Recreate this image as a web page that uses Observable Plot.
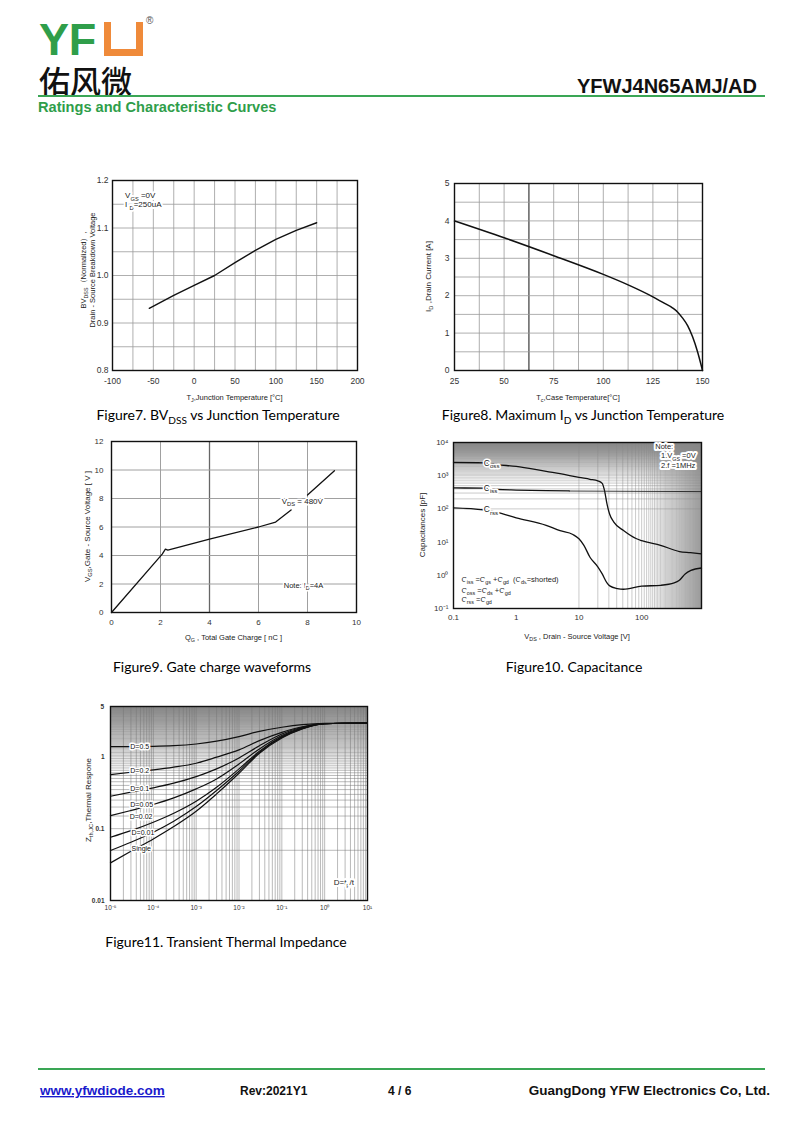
<!DOCTYPE html>
<html><head><meta charset="utf-8">
<script src="https://cdn.jsdelivr.net/npm/d3@7"></script>
<script src="https://cdn.jsdelivr.net/npm/@observablehq/plot@0.6"></script>
<style>
body{margin:0;background:#fff;}
#page{position:relative;width:800px;height:1131px;overflow:hidden;background:#fff;}
#page svg{position:absolute;}
</style>
</head><body><div id="page"></div>
<script>
// ---------- DATA ----------
// Figure 7: BVDSS (normalized) vs junction temperature
const f7T  = [-55, -25, 0, 25, 50, 75, 100, 125, 150];
const f7BV = [0.931, 0.958, 0.979, 1.0, 1.027, 1.053, 1.076, 1.095, 1.111];
const f7TicksX = [-100, -50, 0, 50, 100, 150, 200];
const f7TicksY = [0.8, 0.9, 1.0, 1.1, 1.2];
const f7GridX = [-100, -75, -50, -25, 0, 25, 50, 75, 100, 125, 150, 175, 200];
const f7GridY = [0.8, 0.85, 0.9, 0.95, 1.0, 1.05, 1.1, 1.15, 1.2];

// Figure 8: maximum ID vs case temperature
const f8T  = [25, 50, 75, 100, 112.5, 125, 130, 135, 137.5, 140, 142.5, 145, 147.5, 150];
const f8ID = [4.0, 3.55, 3.07, 2.57, 2.29, 1.97, 1.82, 1.67, 1.56, 1.40, 1.2, 0.9, 0.5, 0];
const f8TicksX = [25, 50, 75, 100, 125, 150];
const f8TicksY = [0, 1, 2, 3, 4, 5];
const f8GridX = [25, 37.5, 50, 62.5, 75, 87.5, 100, 112.5, 125, 137.5, 150];
const f8GridDarkX = [62.5];
const f8GridY = [0, 0.5, 1, 1.5, 2, 2.5, 3, 3.5, 4, 4.5, 5];

// Figure 9: gate charge
const f9Seg = ["a", "a", "a", "a", "a", "a", "a", "a", "b", "b"];
const f9Q   = [0, 2.07, 2.2, 2.3, 4.0, 6.0, 6.7, 7.33, 8.0, 9.1];
const f9V   = [0, 4.1, 4.45, 4.38, 5.15, 6.0, 6.35, 7.2, 8.24, 9.95];
const f9TicksX = [0, 2, 4, 6, 8, 10];
const f9TicksY = [0, 2, 4, 6, 8, 10, 12];
const f9GridX = [2, 4, 6, 8];
const f9GridDarkX = [4];
const f9GridY = [2, 4, 6, 8, 10];

// Figure 10: capacitance
const f10CossV = [0.1, 0.3, 0.5, 1, 2, 3, 5, 10, 15, 20, 23.5, 25.6, 28, 30.8, 36, 52, 83, 100, 200, 401, 600, 900];
const f10Coss  = [2500, 2450, 2150, 1900, 1550, 1350, 1150, 890, 780, 700, 590, 355, 141, 70, 40, 22, 12.6, 11, 8, 5.2, 4.8, 4.4];
const f10CissV = [0.1, 0.3, 0.5, 1, 3, 7];
const f10Ciss  = [427, 420, 385, 370, 355, 347];
const f10CissTailV = [7, 900];
const f10CissTail  = [345, 332];
const f10CrssV = [0.1, 0.3, 0.5, 1, 3, 5, 8, 10, 12, 15, 20, 23.5, 28, 31, 41, 51, 100, 202, 330, 400, 494, 610, 900];
const f10Crss  = [107, 93, 79, 54, 32, 22, 17, 12.6, 8, 3.5, 1.8, 1.1, 0.59, 0.48, 0.4, 0.38, 0.47, 0.5, 0.59, 0.71, 1.1, 1.4, 1.66];
const f10TicksX = [0.1, 1, 10, 100, 700];
const f10TicksY = [0.1, 1, 10, 100, 1000, 10000];
const f10TickLabelsY = ["10⁻¹", "10⁰", "10¹", "10²", "10³", "10⁴"];

// Figure 11: transient thermal impedance
const f11T = [1e-5, 3e-5, 1e-4, 3e-4, 1e-3, 3e-3, 1e-2, 3e-2, 0.1, 0.3, 1, 10];
const f11D    = ["D=0.5", "D=0.2", "D=0.1", "D=0.05", "D=0.02", "D=0.01", "Single"];
const f11Z05  = [1.39, 1.39, 1.40, 1.43, 1.51, 1.65, 1.91, 2.26, 2.58, 2.81, 2.93, 2.96];
const f11Z02  = [0.566, 0.61, 0.658, 0.718, 0.815, 0.989, 1.25, 1.68, 2.19, 2.62, 2.89, 2.96];
const f11Z01  = [0.283, 0.322, 0.37, 0.43, 0.531, 0.679, 0.966, 1.43, 2.08, 2.58, 2.9, 2.96];
const f11Z005 = [0.152, 0.179, 0.217, 0.268, 0.358, 0.493, 0.797, 1.29, 1.98, 2.53, 2.9, 2.96];
const f11Z002 = [0.076, 0.094, 0.123, 0.164, 0.241, 0.377, 0.679, 1.20, 1.91, 2.50, 2.9, 2.96];
const f11Z001 = [0.0497, 0.0648, 0.0893, 0.127, 0.203, 0.34, 0.631, 1.16, 1.87, 2.47, 2.9, 2.96];
const f11ZS   = [0.0334, 0.0485, 0.072, 0.107, 0.175, 0.305, 0.591, 1.12, 1.83, 2.45, 2.9, 2.96];
const f11LabelT = [2.9e-5, 2.9e-5, 2.9e-5, 2.9e-5, 2.8e-5, 3.1e-5, 3.1e-5];
const f11LabelZ = [1.39, 0.63, 0.358, 0.217, 0.148, 0.089, 0.052];
const f11TicksX = [1e-5, 1e-4, 1e-3, 1e-2, 1e-1, 1, 10];
const f11TickLabelsX = ["10⁻⁵", "10⁻⁴", "10⁻³", "10⁻²", "10⁻¹", "10⁰", "10¹"];
const f11TicksY = [0.01, 0.1, 1, 5];

// ---------- HELPERS ----------
const FONT = "'Liberation Sans', Arial, Helvetica, sans-serif";
const page = document.getElementById("page");
function place(svg, left, top) { svg.style.left = left + "px"; svg.style.top = top + "px"; page.appendChild(svg); return svg; }
function rich(svg, x, y, parts, o = {}) {
  const size = o.size || 8;
  const t = d3.select(svg).append("text")
    .attr("x", x).attr("y", y)
    .attr("font-family", o.family || FONT)
    .attr("font-size", size)
    .attr("font-weight", o.weight || "normal")
    .attr("fill", o.fill || "#222")
    .attr("text-anchor", o.anchor || "start");
  if (o.rotate) t.attr("transform", `rotate(${o.rotate},${x},${y})`);
  if (o.halo) t.attr("stroke", "#fff").attr("stroke-width", o.halo).attr("paint-order", "stroke").attr("stroke-linejoin", "round");
  if (o.underline) t.attr("text-decoration", "underline");
  let cur = 0;
  for (const p of parts) {
    const [s, k] = Array.isArray(p) ? p : [p, null];
    const want = k === "sub" ? size * 0.3 : k === "sup" ? -size * 0.4 : 0;
    const ts = t.append("tspan").text(s);
    if (want !== cur) ts.attr("dy", want - cur);
    if (k) ts.attr("font-size", size * 0.72);
    cur = want;
  }
  return t;
}
const zip = (xs, ys, k = "x", v = "y") => xs.map((x, i) => ({[k]: x, [v]: ys[i]}));
const baseStyle = {fontFamily: FONT, fontSize: "8.5px", color: "#333", background: "transparent", overflow: "visible"};
const GRID = {stroke: "#9a9a9a", strokeWidth: 0.8};

// ---------- PAGE OVERLAY (header, footer, captions) ----------
const ov = d3.create("svg").attr("width", 800).attr("height", 1131).style("left", "0px").style("top", "0px").node();
page.appendChild(ov);
{
  const g = d3.select(ov);
  g.append("text").attr("x", 39).attr("y", 55).attr("font-family", FONT).attr("font-weight", "bold")
    .attr("font-size", 45).attr("fill", "#2f9e4a").attr("letter-spacing", "-0.3").text("YF");
  // stylised orange "U"
  g.append("path").attr("d", "M104,22 h7 v27 h25 v-27 h7 v34 h-39 z").attr("fill", "#ef8a3a");
  g.append("text").attr("x", 146).attr("y", 24).attr("font-family", FONT).attr("font-size", 10).attr("fill", "#555").text("®");
  g.append("text").attr("x", 39).attr("y", 93).attr("font-family", "'Noto Sans CJK SC'").attr("font-weight", 500)
    .attr("font-size", 31).attr("fill", "#111").text("佑风微");
  g.append("text").attr("x", 757).attr("y", 93).attr("text-anchor", "end").attr("font-family", FONT).attr("font-weight", "bold")
    .attr("font-size", 20).attr("fill", "#111").text("YFWJ4N65AMJ/AD");
  g.append("rect").attr("x", 38).attr("y", 95).attr("width", 727).attr("height", 2).attr("fill", "#3aa655");
  g.append("text").attr("x", 38).attr("y", 112).attr("font-family", FONT).attr("font-weight", "bold")
    .attr("font-size", 14.6).attr("fill", "#2f9e4a").text("Ratings and Characteristic Curves");
  // footer
  g.append("rect").attr("x", 38).attr("y", 1068).attr("width", 727).attr("height", 2).attr("fill", "#3aa655");
  rich(ov, 40, 1095, ["www.yfwdiode.com"], {size: 13.5, weight: "bold", fill: "#1a1acc", underline: true});
  rich(ov, 240, 1095, ["Rev:2021Y1"], {size: 12, weight: "bold", fill: "#111"});
  rich(ov, 388, 1095, ["4 / 6"], {size: 12, weight: "bold", fill: "#111"});
  rich(ov, 770, 1095, ["GuangDong YFW Electronics Co, Ltd."], {size: 13.5, weight: "bold", fill: "#111", anchor: "end"});
  // captions
  const CAP = "Lato, 'Open Sans', sans-serif";
  rich(ov, 218, 420, ["Figure7. BV", ["DSS", "sub"], " vs Junction Temperature"], {size: 14, family: CAP, fill: "#000", anchor: "middle"});
  rich(ov, 583, 420, ["Figure8. Maximum I", ["D", "sub"], " vs Junction Temperature"], {size: 14, family: CAP, fill: "#000", anchor: "middle"});
  rich(ov, 212, 672, ["Figure9. Gate charge waveforms"], {size: 14, family: CAP, fill: "#000", anchor: "middle"});
  rich(ov, 574, 672, ["Figure10. Capacitance"], {size: 14, family: CAP, fill: "#000", anchor: "middle"});
  rich(ov, 226, 947, ["Figure11. Transient Thermal Impedance"], {size: 14, family: CAP, fill: "#000", anchor: "middle"});
}

// ---------- FIGURE 7 ----------
{
  const W = 350, H = 240, ml = 82, mr = 23, mt = 10, mb = 40;
  const svg = Plot.plot({
    width: W, height: H, marginLeft: ml, marginRight: mr, marginTop: mt, marginBottom: mb,
    style: baseStyle,
    x: {domain: [-100, 200]},
    y: {domain: [0.8, 1.2]},
    marks: [
      Plot.ruleX(f7GridX, GRID),
      Plot.ruleY(f7GridY, GRID),
      Plot.axisX({ticks: f7TicksX, tickSize: 0, tickPadding: 7, tickFormat: d => String(d), label: null}),
      Plot.axisY({ticks: f7TicksY, tickSize: 0, tickPadding: 4, tickFormat: d => d.toFixed(1), label: null}),
      Plot.line(zip(f7T, f7BV), {x: "x", y: "y", stroke: "#111", strokeWidth: 1.4}),
      Plot.frame({stroke: "#111", strokeWidth: 1.4})
    ]
  });
  place(svg, 30, 170);
  const sx = svg.scale("x"), sy = svg.scale("y");
  rich(svg, sx.apply(-84), sy.apply(1.168) + 3, ["V", ["GS", "sub"], " =0V"], {size: 8, halo: 4});
  rich(svg, sx.apply(-84), sy.apply(1.149) + 3, ["I ", ["D", "sub"], "=250uA"], {size: 8, halo: 4});
  const cx = ml + (W - ml - mr) / 2, cy = mt + (H - mt - mb) / 2;
  rich(svg, cx, 230, ["T", ["J", "sub"], ",Junction Temperature [°C]"], {size: 7.5, anchor: "middle"});
  rich(svg, 56, cy - 5, ["BV", ["DSS", "sub"], "（Normalized）,"], {size: 7.5, anchor: "middle", rotate: -90});
  rich(svg, 65, cy - 5, ["Drain - Source Breakdown Voltage"], {size: 7.5, anchor: "middle", rotate: -90});
}

// ---------- FIGURE 8 ----------
{
  const W = 320, H = 240, ml = 54, mr = 18, mt = 11, mb = 42;
  const svg = Plot.plot({
    width: W, height: H, marginLeft: ml, marginRight: mr, marginTop: mt, marginBottom: mb,
    style: baseStyle,
    x: {domain: [25, 150]},
    y: {domain: [0, 5]},
    marks: [
      Plot.ruleX(f8GridX, GRID),
      Plot.ruleX(f8GridDarkX, {stroke: "#555", strokeWidth: 1.2}),
      Plot.ruleY(f8GridY, GRID),
      Plot.axisX({ticks: f8TicksX, tickSize: 0, tickPadding: 7, tickFormat: d => String(d), label: null}),
      Plot.axisY({ticks: f8TicksY, tickSize: 0, tickPadding: 5, tickFormat: d => String(d), label: null}),
      Plot.line(zip(f8T, f8ID), {x: "x", y: "y", stroke: "#111", strokeWidth: 1.5, curve: "monotone-x"}),
      Plot.frame({stroke: "#111", strokeWidth: 1.4})
    ]
  });
  place(svg, 400, 172);
  const cx = ml + (W - ml - mr) / 2, cy = mt + (H - mt - mb) / 2;
  rich(svg, cx, 228, ["T", ["c", "sub"], ",Case Temperature[°C]"], {size: 7.5, anchor: "middle"});
  rich(svg, 31, cy, ["I", ["D", "sub"], " ,Drain Current [A]"], {size: 8, anchor: "middle", rotate: -90});
}

// ---------- FIGURE 9 ----------
{
  const W = 340, H = 215, ml = 81, mr = 14, mt = 9, mb = 35;
  const svg = Plot.plot({
    width: W, height: H, marginLeft: ml, marginRight: mr, marginTop: mt, marginBottom: mb,
    style: {...baseStyle, fontSize: "8px"},
    x: {domain: [0, 10]},
    y: {domain: [0, 12]},
    marks: [
      Plot.ruleX(f9GridX, {stroke: "#a0a0a0", strokeWidth: 1}),
      Plot.ruleX(f9GridDarkX, {stroke: "#666", strokeWidth: 1.3}),
      Plot.ruleY(f9GridY, {stroke: "#a0a0a0", strokeWidth: 1}),
      Plot.axisX({ticks: f9TicksX, tickSize: 0, tickPadding: 7, label: null}),
      Plot.axisY({ticks: f9TicksY, tickSize: 0, tickPadding: 8, label: null}),
      Plot.line(f9Q.map((q, i) => ({q, v: f9V[i], s: f9Seg[i]})), {x: "q", y: "v", z: "s", stroke: "#111", strokeWidth: 1.3}),
      Plot.frame({stroke: "#111", strokeWidth: 1.4})
    ]
  });
  place(svg, 30, 432);
  const sx = svg.scale("x"), sy = svg.scale("y");
  const cx = ml + (W - ml - mr) / 2, cy = mt + (H - mt - mb) / 2;
  rich(svg, sx.apply(6.97), sy.apply(7.8) + 3, ["V", ["DS", "sub"], " = 480V"], {size: 8, halo: 3});
  rich(svg, sx.apply(7.05), sy.apply(1.9) + 3, ["Note: I", ["D", "sub"], "=4A"], {size: 7.5, halo: 3});
  rich(svg, cx, 208, ["Q", ["G", "sub"], " , Total Gate Charge [ nC ]"], {size: 7.5, anchor: "middle"});
  rich(svg, 60, cy, ["V", ["GS", "sub"], ",Gate - Source Voltage [ V ]"], {size: 8, anchor: "middle", rotate: -90});
}

// ---------- FIGURE 10 ----------
{
  const W = 320, H = 215, ml = 53, mr = 19, mt = 10, mb = 39;
  const svg = Plot.plot({
    width: W, height: H, marginLeft: ml, marginRight: mr, marginTop: mt, marginBottom: mb,
    style: {...baseStyle, fontSize: "8px"},
    x: {type: "log", domain: [0.1, 900]},
    y: {type: "log", domain: [0.1, 10000]},
    marks: [
      Plot.gridX({ticks: 100, stroke: "#888", strokeOpacity: 0.75, strokeWidth: 0.6}),
      Plot.gridY({ticks: 100, stroke: "#888", strokeOpacity: 0.75, strokeWidth: 0.6}),
      Plot.axisX({ticks: f10TicksX, tickSize: 0, tickPadding: 6, tickFormat: d => String(d), label: null}),
      Plot.axisY({ticks: f10TicksY, tickSize: 0, tickPadding: 5, tickFormat: d => f10TickLabelsY[f10TicksY.indexOf(d)], label: null}),
      Plot.line(zip(f10CossV, f10Coss), {x: "x", y: "y", stroke: "#111", strokeWidth: 1.3, curve: "monotone-x"}),
      Plot.line(zip(f10CissV, f10Ciss), {x: "x", y: "y", stroke: "#111", strokeWidth: 1.3, curve: "monotone-x"}),
      Plot.line(zip(f10CissTailV, f10CissTail), {x: "x", y: "y", stroke: "#222", strokeWidth: 0.9}),
      Plot.line(zip(f10CrssV, f10Crss), {x: "x", y: "y", stroke: "#111", strokeWidth: 1.3, curve: "monotone-x"}),
      Plot.frame({stroke: "#111", strokeWidth: 1.4})
    ]
  });
  place(svg, 400, 432);
  const sx = svg.scale("x"), sy = svg.scale("y");
  const cx = ml + (W - ml - mr) / 2, cy = mt + (H - mt - mb) / 2;
  rich(svg, sx.apply(0.31), sy.apply(2340) + 3, ["C", ["oss", "sub"]], {size: 8.5, halo: 3});
  rich(svg, sx.apply(0.31), sy.apply(420) + 3, ["C", ["iss", "sub"]], {size: 8.5, halo: 3});
  rich(svg, sx.apply(0.31), sy.apply(95) + 3, ["C", ["rss", "sub"]], {size: 8.5, halo: 3});
  rich(svg, sx.apply(0.136), sy.apply(0.76) + 3, ["C", ["iss", "sub"], " =C", ["gs", "sub"], " +C", ["gd", "sub"], "  (C", ["ds", "sub"], "=shorted)"], {size: 7.5, halo: 4});
  rich(svg, sx.apply(0.136), sy.apply(0.355) + 3, ["C", ["oss", "sub"], " =C", ["ds", "sub"], " +C", ["gd", "sub"]], {size: 7.5, halo: 4});
  rich(svg, sx.apply(0.136), sy.apply(0.186) + 3, ["C", ["rss", "sub"], " =C", ["gd", "sub"]], {size: 7.5, halo: 4});
  rich(svg, sx.apply(168), sy.apply(7600) + 3, ["Note:"], {size: 7.5, halo: 4});
  rich(svg, sx.apply(207), sy.apply(3980) + 3, ["1.V", ["GS", "sub"], " =0V"], {size: 7.5, halo: 4});
  rich(svg, sx.apply(207), sy.apply(2090) + 3, ["2.f =1MHz"], {size: 7.5, halo: 4});
  rich(svg, cx, 207, ["V", ["DS", "sub"], " , Drain - Source Voltage [V]"], {size: 7.5, anchor: "middle"});
  rich(svg, 25, cy, ["Capacitances [pF]"], {size: 8, anchor: "middle", rotate: -90});
}

// ---------- FIGURE 11 ----------
{
  const W = 350, H = 225, ml = 80, mr = 13, mt = 10, mb = 21;
  const series = [f11Z05, f11Z02, f11Z01, f11Z005, f11Z002, f11Z001, f11ZS];
  const rows = series.flatMap((zs, k) => zs.map((z, i) => ({t: f11T[i], z, d: f11D[k]})));
  const labels = f11D.map((d, i) => ({d, t: f11LabelT[i], z: f11LabelZ[i]}));
  const svg = Plot.plot({
    width: W, height: H, marginLeft: ml, marginRight: mr, marginTop: mt, marginBottom: mb,
    style: {...baseStyle, fontSize: "6.5px"},
    x: {type: "log", domain: [1e-5, 10]},
    y: {type: "log", domain: [0.01, 5.02]},
    marks: [
      Plot.gridX({ticks: 100, stroke: "#777", strokeOpacity: 0.85, strokeWidth: 0.6}),
      Plot.gridY({ticks: 100, stroke: "#777", strokeOpacity: 0.85, strokeWidth: 0.6}),
      Plot.axisX({ticks: f11TicksX, tickSize: 0, tickPadding: 5, tickFormat: d => f11TickLabelsX[f11TicksX.indexOf(d)], label: null}),
      Plot.axisY({ticks: f11TicksY, tickSize: 0, tickPadding: 6, tickFormat: d => String(d), label: null, fontWeight: "bold"}),
      Plot.line(rows, {x: "t", y: "z", z: "d", stroke: "#111", strokeWidth: 1.2, curve: "monotone-x"}),
      Plot.text(labels, {x: "t", y: "z", text: "d", textAnchor: "start", fontSize: 7, fill: "#111", stroke: "white", strokeWidth: 3, paintOrder: "stroke"}),
      Plot.frame({stroke: "#111", strokeWidth: 1.4})
    ]
  });
  place(svg, 30, 696);
  const sx = svg.scale("x"), sy = svg.scale("y");
  const cy = mt + (H - mt - mb) / 2;
  // make sure every y tick label (incl. the top "5") is present
  const shown = new Set(Array.from(svg.querySelectorAll("text")).map(t => t.textContent.trim()));
  for (const v of f11TicksY) {
    if (!shown.has(String(v))) rich(svg, ml - 6, sy.apply(v) + 2.5, [String(v)], {size: 6.5, weight: "bold", anchor: "end", fill: "#333"});
  }
  rich(svg, sx.apply(1.67), sy.apply(0.018) + 3, ["D=t", ["p", "sub"], "/t"], {size: 8, halo: 4});
  rich(svg, 61, cy - 3, ["Z", ["th,JC", "sub"], ",Thermal Respone"], {size: 8, anchor: "middle", rotate: -90});
}
</script>
</body></html>
